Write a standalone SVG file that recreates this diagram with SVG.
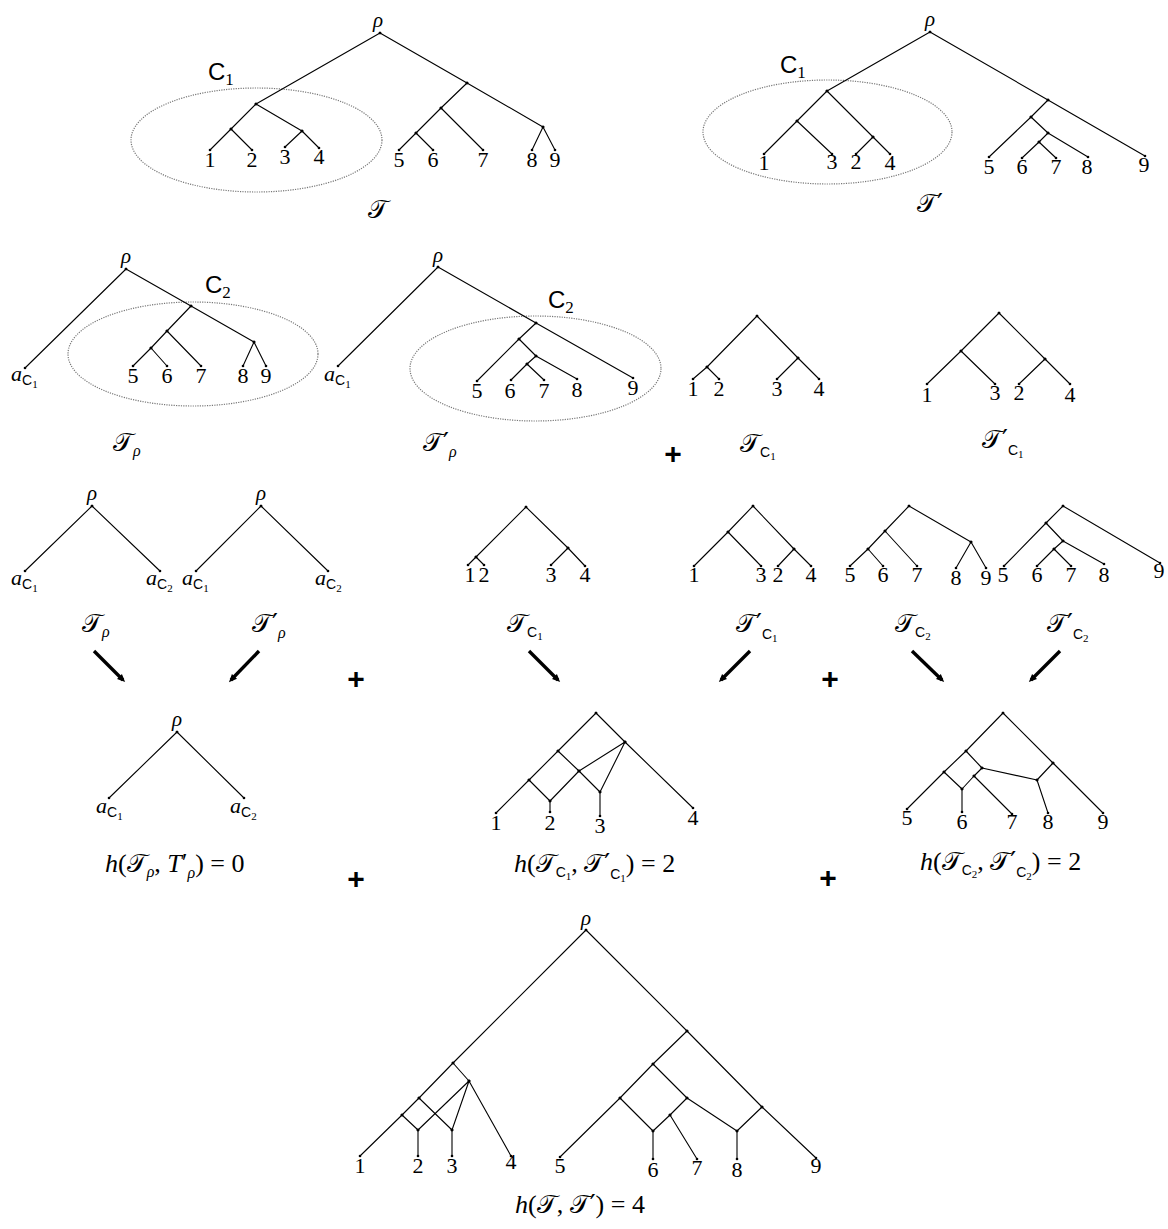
<svg xmlns="http://www.w3.org/2000/svg" width="1168" height="1229" viewBox="0 0 1168 1229">
  <defs>
    <marker id="dot" markerWidth="4" markerHeight="4" refX="2" refY="2" markerUnits="userSpaceOnUse">
      <circle cx="2" cy="2" r="1.3" fill="#000"/>
    </marker>
    <marker id="head" markerWidth="10" markerHeight="10" refX="5" refY="5" markerUnits="userSpaceOnUse" orient="auto">
      <path d="M0,1.5 L8,5 L0,8.5 z" fill="#000"/>
    </marker>
    <style>
      .edges { fill: none; stroke: #000; stroke-width: 1.1; marker-start: url(#dot); marker-mid: url(#dot); marker-end: url(#dot); }
      .clade { fill: none; stroke: #777; stroke-width: 1.2; stroke-dasharray: 1.2 1.2; }
      .num { font-family: "Liberation Serif", serif; font-size: 22px; text-anchor: middle; fill: #000; }
      .rho { font-family: "Liberation Serif", serif; font-style: italic; font-size: 21px; text-anchor: middle; fill: #000; }
      .leafa { font-family: "Liberation Serif", serif; font-style: italic; font-size: 22px; fill: #000; }
      .subC { font-family: "Liberation Sans", sans-serif; font-style: normal; font-size: 14px; }
      .sub1 { font-family: "Liberation Serif", serif; font-style: normal; font-size: 11px; }
      .cname { font-family: "Liberation Sans", sans-serif; font-size: 24px; fill: #000; }
      .cname1 { font-family: "Liberation Serif", serif; font-size: 17px; }
      .cal { font-family: "DejaVu Serif", "Noto Sans", serif; font-size: 26px; fill: #000; }
      .calsub { font-family: "Liberation Serif", serif; font-style: italic; font-size: 16px; }
      .eq { font-family: "Liberation Serif", serif; font-size: 26px; fill: #000; }
      .it { font-style: italic; }
      .plus { font-family: "Liberation Sans", sans-serif; font-weight: bold; font-size: 30px; text-anchor: middle; fill: #000; }
      .arrow { stroke: #000; stroke-width: 3.4; fill: none; marker-end: url(#head); }
    </style>
  </defs>
  <rect width="1168" height="1229" fill="#fff"/>

  <!-- T -->
  <g id="tree-T">
    <ellipse class="clade" cx="256.5" cy="140" rx="125.5" ry="52"/>
    <path class="edges" d="M380,33 L256,104 M256,104 L231,129 M256,104 L302,131 M231,129 L210,150 M231,129 L252,150 M302,131 L285,147 M302,131 L319,148 M380,33 L467,83 M467,83 L441,108 M441,108 L416,133 M416,133 L399,150 M416,133 L433,150 M441,108 L483,150 M467,83 L543,127 M543,127 L532,150 M543,127 L555,150"/>
    <text class="rho" x="378" y="27">ρ</text>
    <text class="cname" x="208" y="80">C<tspan class="cname1" dy="5">1</tspan></text>
    <text class="num" x="210" y="167">1</text>
    <text class="num" x="252" y="167">2</text>
    <text class="num" x="285" y="164">3</text>
    <text class="num" x="319" y="164">4</text>
    <text class="num" x="399" y="167">5</text>
    <text class="num" x="433" y="167">6</text>
    <text class="num" x="483" y="167">7</text>
    <text class="num" x="532" y="167">8</text>
    <text class="num" x="555" y="167">9</text>
    <text class="cal" x="378" y="218" text-anchor="middle">𝒯</text>
  </g>

  <!-- T' -->
  <g id="tree-T-prime">
    <ellipse class="clade" cx="827.5" cy="132" rx="124.5" ry="52"/>
    <path class="edges" d="M930,32 L827,91 M827,91 L797,121 M797,121 L764,154 M797,121 L832,154 M827,91 L873,137 M873,137 L856,154 M873,137 L890,154 M930,32 L1048,100 M1048,100 L1145,156 M1048,100 L1031,117 M1031,117 L989,157 M1031,117 L1048,133 M1048,133 L1088,157 M1048,133 L1039,142 M1039,142 L1022,158 M1039,142 L1056,158"/>
    <text class="rho" x="930" y="26">ρ</text>
    <text class="cname" x="780" y="73">C<tspan class="cname1" dy="5">1</tspan></text>
    <text class="num" x="764" y="170">1</text>
    <text class="num" x="832" y="169">3</text>
    <text class="num" x="856" y="169">2</text>
    <text class="num" x="890" y="170">4</text>
    <text class="num" x="989" y="174">5</text>
    <text class="num" x="1022" y="174">6</text>
    <text class="num" x="1056" y="174">7</text>
    <text class="num" x="1087" y="174">8</text>
    <text class="num" x="1144" y="172">9</text>
    <text class="cal" x="930" y="212" text-anchor="middle">𝒯′</text>
  </g>

  <!-- T_rho with clade C2 -->
  <g id="tree-T-rho">
    <ellipse class="clade" cx="193" cy="354" rx="125" ry="52"/>
    <path class="edges" d="M126,269 L25,368 M126,269 L191,306 M191,306 L254,342 M191,306 L167,331 M167,331 L151,348 M151,348 L133,366 M151,348 L167,366 M167,331 L201,366 M254,342 L243,366 M254,342 L266,366"/>
    <text class="rho" x="126" y="263">ρ</text>
    <text class="cname" x="205" y="293">C<tspan class="cname1" dy="5">2</tspan></text>
    <text class="leafa" x="11" y="381">a<tspan class="subC" dy="4">C</tspan><tspan class="sub1" dy="3">1</tspan></text>
    <text class="num" x="133" y="383">5</text>
    <text class="num" x="167" y="383">6</text>
    <text class="num" x="201" y="383">7</text>
    <text class="num" x="243" y="383">8</text>
    <text class="num" x="266" y="383">9</text>
    <text class="cal" x="113" y="451">𝒯<tspan class="calsub" dy="5">ρ</tspan></text>
  </g>

  <!-- T'_rho with clade C2 -->
  <g id="tree-T-rho-prime">
    <ellipse class="clade" cx="535.5" cy="368.5" rx="125.5" ry="52.5"/>
    <path class="edges" d="M438,267 L338,366 M438,267 L536,323 M536,323 L633,378 M536,323 L519,339 M519,339 L477,381 M519,339 L536,356 M536,356 L577,379 M536,356 L527,364 M527,364 L511,380 M527,364 L544,380"/>
    <text class="rho" x="438" y="262">ρ</text>
    <text class="cname" x="548" y="308">C<tspan class="cname1" dy="5">2</tspan></text>
    <text class="leafa" x="324" y="381">a<tspan class="subC" dy="4">C</tspan><tspan class="sub1" dy="3">1</tspan></text>
    <text class="num" x="477" y="398">5</text>
    <text class="num" x="510" y="398">6</text>
    <text class="num" x="544" y="398">7</text>
    <text class="num" x="577" y="397">8</text>
    <text class="num" x="633" y="395">9</text>
    <text class="cal" x="423" y="451">𝒯′<tspan class="calsub" dy="6">ρ</tspan></text>
  </g>

  <!-- T_C1 -->
  <g id="tree-T-C1">
    <path class="edges" d="M757,316 L707,367 M707,367 L693,379 M707,367 L719,379 M757,316 L798,358 M798,358 L777,379 M798,358 L819,379"/>
    <text class="num" x="693" y="396">1</text>
    <text class="num" x="719" y="396">2</text>
    <text class="num" x="777" y="396">3</text>
    <text class="num" x="819" y="396">4</text>
    <text class="cal" x="740" y="452">𝒯<tspan class="subC" dy="5">C</tspan><tspan class="sub1" dy="3">1</tspan></text>
  </g>

  <!-- T'_C1 -->
  <g id="tree-T-C1-prime">
    <path class="edges" d="M999,313 L961,351 M961,351 L927,384 M961,351 L995,384 M999,313 L1045,359 M1045,359 L1019,384 M1045,359 L1070,384"/>
    <text class="num" x="927" y="402">1</text>
    <text class="num" x="995" y="400">3</text>
    <text class="num" x="1019" y="400">2</text>
    <text class="num" x="1070" y="402">4</text>
    <text class="cal" x="982" y="448">𝒯′<tspan class="subC" dy="7">C</tspan><tspan class="sub1" dy="3">1</tspan></text>
  </g>

  <text class="plus" x="673" y="464">+</text>

  <!-- Row 3: reduced trees -->
  <g id="small-T-rho">
    <path class="edges" d="M92,506 L25,571 M92,506 L160,571"/>
    <text class="rho" x="92" y="500">ρ</text>
    <text class="leafa" x="11" y="585">a<tspan class="subC" dy="4">C</tspan><tspan class="sub1" dy="3">1</tspan></text>
    <text class="leafa" x="146" y="585">a<tspan class="subC" dy="4">C</tspan><tspan class="sub1" dy="3">2</tspan></text>
    <text class="cal" x="82" y="632">𝒯<tspan class="calsub" dy="5">ρ</tspan></text>
  </g>

  <g id="small-T-rho-prime">
    <path class="edges" d="M261,506 L196,571 M261,506 L328,571"/>
    <text class="rho" x="261" y="500">ρ</text>
    <text class="leafa" x="182" y="585">a<tspan class="subC" dy="4">C</tspan><tspan class="sub1" dy="3">1</tspan></text>
    <text class="leafa" x="315" y="585">a<tspan class="subC" dy="4">C</tspan><tspan class="sub1" dy="3">2</tspan></text>
    <text class="cal" x="252" y="632">𝒯′<tspan class="calsub" dy="6">ρ</tspan></text>
  </g>

  <g id="small-T-C1">
    <path class="edges" d="M526,507 L476,557 M476,557 L468,565 M476,557 L484,565 M526,507 L568,548 M568,548 L551,565 M568,548 L585,566"/>
    <text class="num" x="470" y="582">1</text>
    <text class="num" x="484" y="582">2</text>
    <text class="num" x="551" y="582">3</text>
    <text class="num" x="585" y="582">4</text>
    <text class="cal" x="507" y="632">𝒯<tspan class="subC" dy="5">C</tspan><tspan class="sub1" dy="3">1</tspan></text>
  </g>

  <g id="small-T-C1-prime">
    <path class="edges" d="M753,506 L728,532 M728,532 L694,566 M728,532 L761,566 M753,506 L794,549 M794,549 L778,566 M794,549 L811,566"/>
    <text class="num" x="694" y="582">1</text>
    <text class="num" x="761" y="582">3</text>
    <text class="num" x="778" y="582">2</text>
    <text class="num" x="811" y="582">4</text>
    <text class="cal" x="736" y="632">𝒯′<tspan class="subC" dy="7">C</tspan><tspan class="sub1" dy="3">1</tspan></text>
  </g>

  <g id="small-T-C2">
    <path class="edges" d="M909,506 L885,531 M885,531 L868,549 M868,549 L850,566 M868,549 L883,566 M885,531 L917,566 M909,506 L971,542 M971,542 L956,568 M971,542 L986,568"/>
    <text class="num" x="850" y="582">5</text>
    <text class="num" x="883" y="582">6</text>
    <text class="num" x="917" y="582">7</text>
    <text class="num" x="956" y="585">8</text>
    <text class="num" x="986" y="585">9</text>
    <text class="cal" x="895" y="632">𝒯<tspan class="subC" dy="5">C</tspan><tspan class="sub1" dy="3">2</tspan></text>
  </g>

  <g id="small-T-C2-prime">
    <path class="edges" d="M1063,506 L1046,523 M1046,523 L1004,566 M1046,523 L1063,541 M1063,541 L1104,564 M1063,541 L1054,549 M1054,549 L1037,566 M1054,549 L1071,566 M1063,506 L1160,563"/>
    <text class="num" x="1003" y="582">5</text>
    <text class="num" x="1037" y="582">6</text>
    <text class="num" x="1071" y="582">7</text>
    <text class="num" x="1104" y="582">8</text>
    <text class="num" x="1159" y="578">9</text>
    <text class="cal" x="1047" y="632">𝒯′<tspan class="subC" dy="7">C</tspan><tspan class="sub1" dy="3">2</tspan></text>
  </g>

  <!-- arrows from tree pairs to their hybridization networks -->
  <g id="connectors">
    <line class="arrow" x1="94" y1="651" x2="123" y2="680"/>
    <line class="arrow" x1="259" y1="651" x2="231" y2="680"/>
    <line class="arrow" x1="529" y1="651" x2="558" y2="680"/>
    <line class="arrow" x1="750" y1="651" x2="721" y2="680"/>
    <line class="arrow" x1="912" y1="651" x2="942" y2="680"/>
    <line class="arrow" x1="1060" y1="651" x2="1031" y2="680"/>
  </g>

  <text class="plus" x="356" y="689">+</text>
  <text class="plus" x="830" y="689">+</text>

  <!-- Row 4: networks per cluster -->
  <g id="net-rho">
    <path class="edges" d="M177,732 L109,798 M177,732 L244,798"/>
    <text class="rho" x="177" y="726">ρ</text>
    <text class="leafa" x="96" y="813">a<tspan class="subC" dy="4">C</tspan><tspan class="sub1" dy="3">1</tspan></text>
    <text class="leafa" x="230" y="813">a<tspan class="subC" dy="4">C</tspan><tspan class="sub1" dy="3">2</tspan></text>
    <text class="eq" x="105" y="872"><tspan class="it">h</tspan>(<tspan class="cal">𝒯</tspan><tspan class="calsub" dy="5">ρ</tspan><tspan dy="-5">, </tspan><tspan class="it">T</tspan><tspan dy="-1">′</tspan><tspan class="calsub" dy="7">ρ</tspan><tspan dy="-6">) = 0</tspan></text>
  </g>

  <g id="net-C1">
    <path class="edges" d="M596,713 L558,751 M558,751 L529,780 M529,780 L496,813 M558,751 L579,771 M579,771 L600,792 M529,780 L550,801 M625,742 L579,771 M579,771 L550,801 M625,742 L600,792 M550,801 L550,812 M600,792 L600,816 M596,713 L625,742 M625,742 L693,808"/>
    <text class="num" x="496" y="830">1</text>
    <text class="num" x="550" y="830">2</text>
    <text class="num" x="600" y="833">3</text>
    <text class="num" x="693" y="825">4</text>
    <text class="eq" x="514" y="872"><tspan class="it">h</tspan>(<tspan class="cal">𝒯</tspan><tspan class="subC" dy="5">C</tspan><tspan class="sub1" dy="3">1</tspan><tspan dy="-8">, </tspan><tspan class="cal">𝒯′</tspan><tspan class="subC" dy="7">C</tspan><tspan class="sub1" dy="3">1</tspan><tspan dy="-10">) = 2</tspan></text>
  </g>

  <g id="net-C2">
    <path class="edges" d="M1003,713 L966,751 M966,751 L944,772 M944,772 L907,809 M966,751 L982,768 M944,772 L962,789 M982,768 L974,776 M974,776 L962,789 M962,789 L962,812 M974,776 L1012,814 M982,768 L1037,780 M1053,763 L1037,780 M1037,780 L1048,813 M1003,713 L1053,763 M1053,763 L1103,813"/>
    <text class="num" x="907" y="825">5</text>
    <text class="num" x="962" y="829">6</text>
    <text class="num" x="1012" y="829">7</text>
    <text class="num" x="1048" y="829">8</text>
    <text class="num" x="1103" y="829">9</text>
    <text class="eq" x="920" y="870"><tspan class="it">h</tspan>(<tspan class="cal">𝒯</tspan><tspan class="subC" dy="5">C</tspan><tspan class="sub1" dy="3">2</tspan><tspan dy="-8">, </tspan><tspan class="cal">𝒯′</tspan><tspan class="subC" dy="7">C</tspan><tspan class="sub1" dy="3">2</tspan><tspan dy="-10">) = 2</tspan></text>
  </g>

  <text class="plus" x="356" y="889">+</text>
  <text class="plus" x="828" y="888">+</text>

  <!-- combined network for the whole tree pair -->
  <g id="net-full">
    <path class="edges" d="M586,930 L453,1063 M453,1063 L419,1098 M419,1098 L402,1115 M402,1115 L360,1156 M453,1063 L469,1081 M469,1081 L511,1156 M469,1081 L452,1130 M469,1081 L418,1130 M419,1098 L452,1130 M402,1115 L418,1130 M418,1130 L418,1156 M452,1130 L452,1156 M586,930 L687,1031 M687,1031 L762,1107 M762,1107 L816,1158 M687,1031 L653,1064 M653,1064 L620,1098 M620,1098 L560,1157 M653,1064 L687,1098 M620,1098 L653,1131 M687,1098 L670,1115 M670,1115 L653,1131 M670,1115 L697,1159 M653,1131 L653,1159 M687,1098 L737,1131 M762,1107 L737,1131 M737,1131 L737,1159"/>
    <text class="rho" x="586" y="925">ρ</text>
    <text class="num" x="360" y="1173">1</text>
    <text class="num" x="418" y="1173">2</text>
    <text class="num" x="452" y="1173">3</text>
    <text class="num" x="511" y="1169">4</text>
    <text class="num" x="560" y="1173">5</text>
    <text class="num" x="653" y="1177">6</text>
    <text class="num" x="697" y="1175">7</text>
    <text class="num" x="737" y="1177">8</text>
    <text class="num" x="816" y="1173">9</text>
    <text class="eq" x="515" y="1213"><tspan class="it">h</tspan>(<tspan class="cal">𝒯</tspan>, <tspan class="cal">𝒯′</tspan>) = 4</text>
  </g>
</svg>
